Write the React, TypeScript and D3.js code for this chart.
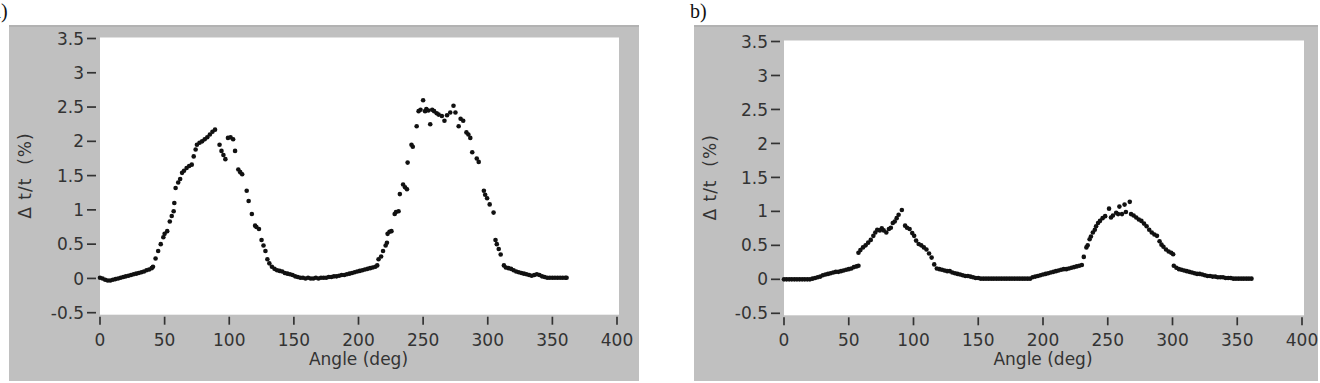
import * as d3 from "d3";

// readings taken from the two scatter plots, [angle (deg), delta t / t (%)]
const seriesA: [number, number][] = [
  [0, 0.01], [2, 0.0], [4, -0.02], [6, -0.03], [8, -0.03], [10, -0.02], [12, -0.01], [14, 0.0],
  [16, 0.01], [18, 0.02], [20, 0.03], [22, 0.04], [24, 0.05], [26, 0.06], [28, 0.07], [30, 0.08],
  [32, 0.09], [34, 0.1], [36, 0.12], [38, 0.13], [40, 0.15], [41, 0.17],
  [43, 0.29], [45, 0.4], [47, 0.5], [49, 0.6], [50, 0.65], [52, 0.69], [54, 0.83], [55.5, 0.91],
  [57, 0.98], [57.5, 1.1], [58.5, 1.32], [60.5, 1.4], [62, 1.45], [63.5, 1.54], [65, 1.57], [67, 1.61],
  [69, 1.64], [71, 1.66], [72.5, 1.78], [74, 1.88], [75, 1.95], [77, 1.98], [79, 2.0], [81, 2.03],
  [83, 2.06], [85, 2.1], [87, 2.14], [89, 2.17],
  [92.5, 1.95], [94, 1.86], [95.5, 1.8], [97, 1.74], [99, 2.05], [101, 2.06], [103, 2.03], [104.5, 1.86],
  [107, 1.59], [108.5, 1.55], [110, 1.52], [113.5, 1.28], [115, 1.13], [117.5, 0.94], [120, 0.77],
  [121, 0.75], [123, 0.72], [125, 0.56], [126.5, 0.48], [128, 0.4], [129.5, 0.28], [131, 0.22],
  [133, 0.17], [135, 0.14], [137, 0.12], [139, 0.11], [141, 0.1], [143, 0.08], [145, 0.07], [147, 0.06],
  [149, 0.05], [151, 0.03], [153, 0.02], [155, 0.01], [157, 0.01], [159, 0.0], [161, 0.01], [163, 0.0],
  [165, 0.0], [167, 0.01], [169, 0.0], [171, 0.01], [173, 0.01], [175, 0.01], [177, 0.02], [179, 0.02],
  [181, 0.03], [183, 0.03], [185, 0.04], [187, 0.05], [189, 0.05], [191, 0.06], [193, 0.07], [195, 0.08],
  [197, 0.09], [199, 0.1], [201, 0.11], [203, 0.12], [205, 0.13], [207, 0.14], [209, 0.15], [211, 0.16],
  [213, 0.17], [214.5, 0.19],
  [215.5, 0.28], [217.5, 0.32], [219, 0.4], [221, 0.48], [222, 0.52], [222.5, 0.65], [224, 0.68],
  [225.5, 0.69], [228, 0.94], [229, 0.97], [231, 0.98], [232, 1.23], [234.5, 1.37], [236, 1.33],
  [237.5, 1.3], [238, 1.69], [241, 1.95], [242, 1.92], [245, 2.22], [246.5, 2.44], [248, 2.46],
  [250, 2.6], [251.5, 2.44], [252.5, 2.47], [254, 2.45], [255.5, 2.25], [257, 2.46], [258.5, 2.44],
  [260.5, 2.41], [262, 2.39], [264.5, 2.37], [266.5, 2.3], [268.5, 2.38], [271, 2.42], [273.5, 2.52],
  [275, 2.42], [277.5, 2.22], [279, 2.33], [281, 2.3], [283.5, 2.13], [285, 2.1], [286.5, 2.05],
  [288, 1.84], [291.5, 1.75], [293, 1.7], [297, 1.28], [298, 1.22], [299.5, 1.17], [301.5, 1.08],
  [304.5, 0.96], [306, 0.56], [307, 0.5], [308.5, 0.43], [310, 0.35], [312.5, 0.19], [314, 0.16],
  [316, 0.15], [318, 0.14], [320, 0.12], [322, 0.1], [324, 0.09], [326, 0.08], [328, 0.07], [330, 0.06],
  [332, 0.05], [334, 0.04], [336, 0.05], [338, 0.06], [340, 0.05], [342, 0.03], [344, 0.02], [346, 0.01],
  [348, 0.01], [350, 0.01], [352, 0.01], [354, 0.01], [356, 0.01], [358, 0.01], [360, 0.01], [361, 0.01],
];

const seriesB: [number, number][] = [
  [0, 0.0], [2, 0.0], [4, 0.0], [6, 0.0], [8, 0.0], [10, 0.0], [12, 0.0], [14, 0.0], [16, 0.0],
  [18, 0.0], [20, 0.0], [22, 0.01], [24, 0.02], [26, 0.03], [28, 0.04], [30, 0.06], [32, 0.07],
  [34, 0.08], [36, 0.09], [38, 0.1], [40, 0.11], [42, 0.11], [44, 0.12], [46, 0.13], [48, 0.14],
  [50, 0.15], [52, 0.16], [54, 0.18], [56, 0.19], [57.5, 0.2],
  [57.5, 0.39], [59, 0.43], [61, 0.47], [63, 0.5], [65, 0.54], [67, 0.58], [69, 0.64], [70.5, 0.69],
  [72, 0.73], [74, 0.72], [75.5, 0.75], [77, 0.72], [79, 0.69], [81, 0.74], [82.5, 0.76], [84, 0.83],
  [85.5, 0.85], [87, 0.9], [88.5, 0.95], [91, 1.02],
  [93.5, 0.79], [95, 0.76], [97, 0.74], [99, 0.68], [100.5, 0.64], [102, 0.57], [104, 0.52], [106, 0.5],
  [108, 0.47], [110, 0.44], [112, 0.38], [114, 0.32], [116, 0.22], [118, 0.16], [120, 0.15], [122, 0.14],
  [124, 0.13], [126, 0.12], [128, 0.12], [130, 0.1], [132, 0.09], [134, 0.08], [136, 0.07], [138, 0.06],
  [140, 0.05], [142, 0.05], [144, 0.04], [146, 0.03], [148, 0.02], [150, 0.02], [152, 0.01],
  [154, 0.01], [156, 0.01], [158, 0.01], [160, 0.01], [162, 0.01], [164, 0.01], [166, 0.01], [168, 0.01],
  [170, 0.01], [172, 0.01], [174, 0.01], [176, 0.01], [178, 0.01], [180, 0.01], [182, 0.01], [184, 0.01],
  [186, 0.01], [188, 0.01], [190, 0.01], [192, 0.03], [194, 0.04], [196, 0.05], [198, 0.06], [200, 0.07],
  [202, 0.08], [204, 0.09], [206, 0.1], [208, 0.11], [210, 0.12], [212, 0.13], [214, 0.14], [216, 0.15],
  [218, 0.15], [220, 0.16], [222, 0.17], [224, 0.18], [226, 0.19], [228, 0.2], [230, 0.21],
  [231.5, 0.33], [233.5, 0.47], [234.5, 0.5], [236, 0.59], [237, 0.63], [238.5, 0.69], [240, 0.73],
  [241, 0.78], [242.5, 0.83], [244, 0.86], [246, 0.9], [248, 0.93], [251, 1.04], [252.5, 0.91],
  [254, 0.94], [256.5, 0.98], [258, 0.96], [259, 1.07], [261, 0.96], [263, 1.1], [264, 0.99],
  [267, 1.14], [268, 0.96], [270, 0.94], [272, 0.91], [274, 0.88], [276, 0.86], [278, 0.82],
  [280, 0.78], [282, 0.73], [284, 0.69], [286, 0.66], [288, 0.64], [290, 0.56], [291.5, 0.51],
  [293, 0.48], [295, 0.44], [297, 0.41], [299, 0.39], [300.5, 0.37],
  [301, 0.2], [303, 0.17], [305, 0.15], [307, 0.14], [309, 0.13], [311, 0.12], [313, 0.11], [315, 0.1],
  [317, 0.09], [319, 0.08], [321, 0.08], [323, 0.07], [325, 0.06], [327, 0.05], [329, 0.05], [331, 0.04],
  [333, 0.04], [335, 0.03], [337, 0.03], [339, 0.03], [341, 0.02], [343, 0.02], [345, 0.02], [347, 0.01],
  [349, 0.01], [351, 0.01], [353, 0.01], [355, 0.01], [357, 0.01], [359, 0.01], [361, 0.01],
];

const xTicks = [0, 50, 100, 150, 200, 250, 300, 350, 400];
const yTicks = [-0.5, 0, 0.5, 1, 1.5, 2, 2.5, 3, 3.5];
const xLabel = "Angle (deg)";
const yLabel = "\u0394 t/t  (%)";

const FONT = "DejaVu Sans, Verdana, sans-serif";
const FS = 17;
const GRAY = "#c0c0c0";
const INK = "#333";

interface PanelProps {
  data: [number, number][];
  tag: string;
  frame: { x0: number; x1: number; y0: number; y1: number };
  xr: [number, number];
  yr: [number, number];
  tagX: number;
}

function Panel({ data, tag, frame, xr, yr, tagX }: PanelProps) {
  const x = d3.scaleLinear().domain([0, 400]).range(xr);
  const y = d3.scaleLinear().domain([-0.5, 3.5]).range(yr);
  const left = xr[0];
  const right = xr[1] + 2;
  const top = yr[1] - 1;
  const bottom = yr[0] + 2;
  const midY = (yr[0] + yr[1]) / 2;
  const midX = (xr[0] + xr[1]) / 2;

  return (
    <g>
      <text x={tagX} y={18} fontFamily="Liberation Serif, Times New Roman, serif" fontSize={20} fill="#111">
        {tag}
      </text>
      <rect x={frame.x0} y={frame.y0} width={frame.x1 - frame.x0} height={frame.y1 - frame.y0} fill={GRAY} />
      <rect x={frame.x0} y={frame.y0} width={frame.x1 - frame.x0} height={2} fill="#b2b2b2" />
      <rect x={left} y={top} width={right - left} height={bottom - top} fill="#fff" />

      {yTicks.map((t) => (
        <g key={"y" + t}>
          <line x1={left - 13} x2={left - 4} y1={y(t)} y2={y(t)} stroke={INK} strokeWidth={1.7} />
          <text
            x={left - 16}
            y={y(t)}
            dy="0.36em"
            textAnchor="end"
            fontFamily={FONT}
            fontSize={FS}
            fill={INK}
          >
            {t}
          </text>
        </g>
      ))}

      {xTicks.map((t) => (
        <g key={"x" + t}>
          <line x1={x(t)} x2={x(t)} y1={bottom + 2} y2={bottom + 10} stroke={INK} strokeWidth={1.7} />
          <text
            x={x(t)}
            y={bottom + 31}
            textAnchor="middle"
            fontFamily={FONT}
            fontSize={FS}
            fill={INK}
          >
            {t}
          </text>
        </g>
      ))}

      <text x={midX} y={bottom + 50} textAnchor="middle" fontFamily={FONT} fontSize={FS} fill={INK}>
        {xLabel}
      </text>
      <text
        transform={`translate(${frame.x0 + 22}, ${midY}) rotate(-90)`}
        textAnchor="middle"
        fontFamily={FONT}
        fontSize={FS}
        fill={INK}
        style={{ whiteSpace: "pre" }}
        letterSpacing={1}
      >
        {yLabel}
      </text>

      {data.map((d, i) => (
        <circle key={i} cx={x(d[0])} cy={y(d[1])} r={2.3} fill="#111" />
      ))}
    </g>
  );
}

export default function App() {
  return (
    <svg
      width={1320}
      height={383}
      style={{ position: "absolute", left: 0, top: 0, background: "#fff" }}
    >
      <Panel
        data={seriesA}
        tag="a)"
        tagX={-8}
        frame={{ x0: 9, x1: 639, y0: 25, y1: 381 }}
        xr={[100, 617]}
        yr={[312.7, 38.5]}
      />
      <Panel
        data={seriesB}
        tag="b)"
        tagX={690}
        frame={{ x0: 694, x1: 1318, y0: 25, y1: 381 }}
        xr={[784, 1302]}
        yr={[313.3, 41.5]}
      />
    </svg>
  );
}
